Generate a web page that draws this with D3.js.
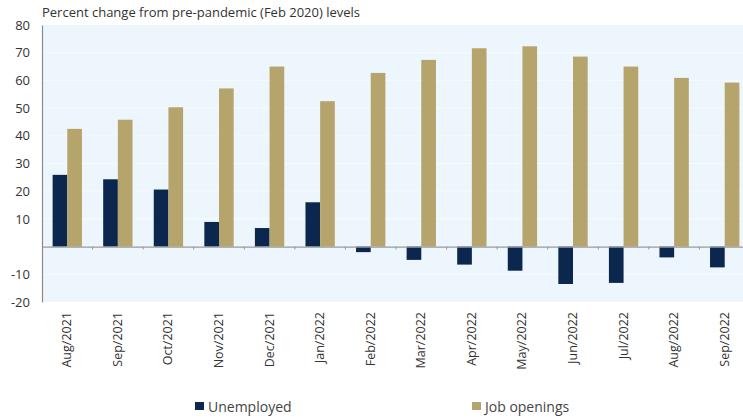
<!DOCTYPE html>
<html>
<head>
<meta charset="utf-8">
<script src="https://cdn.jsdelivr.net/npm/d3@7"></script>
<style>
  body { margin: 0; background: #fff; }
  svg { font-family: "Open Sans", sans-serif; }
</style>
</head>
<body>
<svg id="chart" width="743" height="419"></svg>
<script>
const months = ["Aug/2021", "Sep/2021", "Oct/2021", "Nov/2021", "Dec/2021", "Jan/2022",
  "Feb/2022", "Mar/2022", "Apr/2022", "May/2022", "Jun/2022", "Jul/2022", "Aug/2022", "Sep/2022"];
const unemployed = [25.9, 24.3, 20.6, 8.9, 6.7, 16.0, -2.0, -4.8, -6.5, -8.7, -13.5, -13.1, -3.9, -7.5];
const jobOpenings = [42.5, 45.8, 50.3, 57.1, 65.0, 52.5, 62.7, 67.4, 71.6, 72.3, 68.6, 65.0, 60.9, 59.2];
const seriesNames = ["Unemployed", "Job openings"];
const colors = ["#0b274d", "#b5a46c"];
const yTicks = [-20, -10, 0, 10, 20, 30, 40, 50, 60, 70, 80];

const svg = d3.select("#chart");
const margin = { top: 25, left: 42, right: 0 };
const plotW = 708;  // runs off the right edge a bit, like the original
const plotH = 277;

const g = svg.append("g")
  .attr("transform", `translate(${margin.left},${margin.top})`);

const x = d3.scaleBand()
  .domain(months)
  .range([0, plotW])
  .paddingInner(0)
  .paddingOuter(0);

const x1 = d3.scaleBand()
  .domain(seriesNames)
  .range([x.bandwidth() * 0.21, x.bandwidth() * 0.79]);

const y = d3.scaleLinear()
  .domain([-20, 80])
  .range([plotH, 0]);

// background
g.append("rect")
  .attr("x", 0).attr("y", 0)
  .attr("width", plotW).attr("height", plotH)
  .attr("fill", "#eef6fd");

// faint grid lines
g.selectAll(".grid")
  .data(yTicks.filter(d => d !== 0 && d !== -20 && d !== 80))
  .enter().append("line")
  .attr("x1", 0).attr("x2", plotW)
  .attr("y1", d => y(d)).attr("y2", d => y(d))
  .attr("stroke", "#f7fafe")
  .attr("stroke-width", 1);

// bars
const rows = months.map((m, i) => ({ month: m, values: [unemployed[i], jobOpenings[i]] }));

const groups = g.selectAll(".grp")
  .data(rows)
  .enter().append("g")
  .attr("transform", d => `translate(${x(d.month)},0)`);

groups.selectAll("rect")
  .data(d => d.values.map((v, k) => ({ key: seriesNames[k], v: v, k: k })))
  .enter().append("rect")
  .attr("x", d => x1(d.key))
  .attr("width", x1.bandwidth())
  .attr("y", d => y(Math.max(0, d.v)))
  .attr("height", d => Math.abs(y(d.v) - y(0)))
  .attr("fill", d => colors[d.k]);

// zero line with small tick marks between categories
const zero = g.append("g")
  .attr("transform", `translate(0,${y(0)})`)
  .call(d3.axisBottom(x).tickSize(0).tickFormat(""));
zero.select(".domain").attr("stroke", "#9a9a9a").attr("stroke-width", 1.2);
zero.selectAll(".tick").remove();

g.selectAll(".sep")
  .data(months.slice(1))
  .enter().append("line")
  .attr("x1", d => x(d)).attr("x2", d => x(d))
  .attr("y1", y(0)).attr("y2", y(0) + 3)
  .attr("stroke", "#9a9a9a");

// y axis
const yAxis = g.append("g")
  .call(d3.axisLeft(y).tickValues(yTicks).tickSize(0).tickPadding(12)
    .tickFormat(d => d === 0 ? "" : d));
yAxis.select(".domain").attr("stroke", "#8a8a8a").attr("stroke-width", 1.2);
yAxis.selectAll("text")
  .attr("font-size", 13)
  .attr("fill", "#333")
  .attr("font-family", "Open Sans, sans-serif");

// x labels, rotated
g.selectAll(".xl")
  .data(months)
  .enter().append("text")
  .attr("transform", d => `translate(${x(d) + x.bandwidth() / 2 + 4},${plotH + 10}) rotate(-90)`)
  .attr("text-anchor", "end")
  .attr("font-size", 12.5)
  .attr("fill", "#333")
  .text(d => d);

// title
svg.append("text")
  .attr("x", 42).attr("y", 17)
  .attr("font-size", 13)
  .attr("fill", "#333")
  .text("Percent change from pre-pandemic (Feb 2020) levels");

// legend
const legendX = [195, 472];
const leg = svg.selectAll(".leg")
  .data(seriesNames)
  .enter().append("g")
  .attr("transform", (d, i) => `translate(${legendX[i]},402)`);
leg.append("rect")
  .attr("width", 9).attr("height", 8)
  .attr("fill", (d, i) => colors[i]);
leg.append("text")
  .attr("x", 13).attr("y", 10)
  .attr("font-size", 14)
  .attr("fill", "#444")
  .text(d => d);
</script>
</body>
</html>
